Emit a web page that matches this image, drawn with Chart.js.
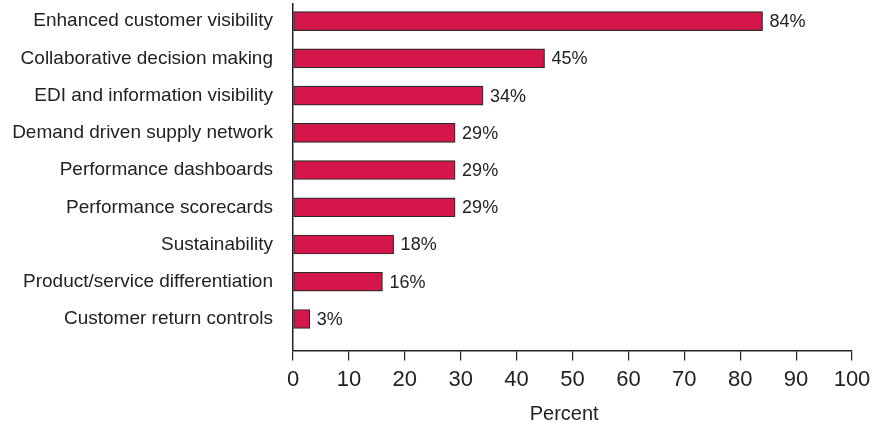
<!DOCTYPE html>
<html>
<head>
<meta charset="utf-8">
<script src="https://cdn.jsdelivr.net/npm/chart.js@4"></script>
<style>
  html, body { margin: 0; padding: 0; background: #fff; }
  #wrap { width: 880px; height: 427px; }
</style>
</head>
<body>
<div id="wrap"><canvas id="chart"></canvas></div>
<script>
const categories = [
    'Enhanced customer visibility',
    'Collaborative decision making',
    'EDI and information visibility',
    'Demand driven supply network',
    'Performance dashboards',
    'Performance scorecards',
    'Sustainability',
    'Product/service differentiation',
    'Customer return controls'
];
const percents = [84, 45, 34, 29, 29, 29, 18, 16, 3];
const xTicks = [0, 10, 20, 30, 40, 50, 60, 70, 80, 90, 100];

const FONT = "'Liberation Sans Narrow', 'Arial Narrow', 'Liberation Sans', sans-serif";

// value labels at the end of each bar
const barLabels = {
    id: 'barLabels',
    afterDatasetsDraw(chart) {
        const ctx = chart.ctx;
        const meta = chart.getDatasetMeta(0);
        ctx.save();
        ctx.font = '18px ' + FONT;
        ctx.fillStyle = '#222';
        ctx.textBaseline = 'middle';
        meta.data.forEach((bar, i) => {
            ctx.fillText(percents[i] + '%', bar.x + 7, bar.y + 1);
        });
        ctx.restore();
    }
};

const ctx = document.getElementById('chart').getContext('2d');
new Chart(ctx, {
    type: 'bar',
    data: {
        datasets: [{
            data: percents.map((v, i) => ({ x: v, y: i })),
            backgroundColor: '#D4164A',
            borderColor: '#2a2a2a',
            borderWidth: 1.2,
            borderSkipped: false,
            barThickness: 19
        }]
    },
    options: {
        indexAxis: 'y',
        responsive: true,
        maintainAspectRatio: false,
        animation: false,
        layout: { padding: { top: 4, right: 28, left: 0, bottom: 1 } },
        plugins: { legend: { display: false }, tooltip: { enabled: false } },
        scales: {
            x: {
                type: 'linear',
                min: 0,
                max: 100,
                afterBuildTicks: s => { s.ticks = xTicks.map(v => ({ value: v })); },
                grid: { drawOnChartArea: false, drawTicks: true, tickLength: 10, color: '#222', lineWidth: 1.2 },
                border: { display: true, color: '#222', width: 1.5 },
                ticks: { color: '#222', font: { family: FONT, size: 22 }, padding: 6, maxRotation: 0 },
                title: { display: true, text: 'Percent   ', color: '#222', font: { family: FONT, size: 20 }, padding: { top: 3, bottom: 0 } }
            },
            y: {
                type: 'linear',
                reverse: true,
                offset: false,
                min: -0.46,
                max: 8.85,
                afterBuildTicks: s => { s.ticks = categories.map((c, i) => ({ value: i })); },
                afterFit: s => { s.width = 293; s.paddingTop = 0; s.paddingBottom = 0; },
                grid: { display: false, drawTicks: true, tickLength: 20 },
                border: { display: true, color: '#222', width: 1.5 },
                ticks: {
                    color: '#222',
                    font: { family: FONT, size: 19 },
                    padding: 0,
                    callback: v => categories[v]
                }
            }
        }
    },
    plugins: [barLabels]
});
</script>
</body>
</html>
